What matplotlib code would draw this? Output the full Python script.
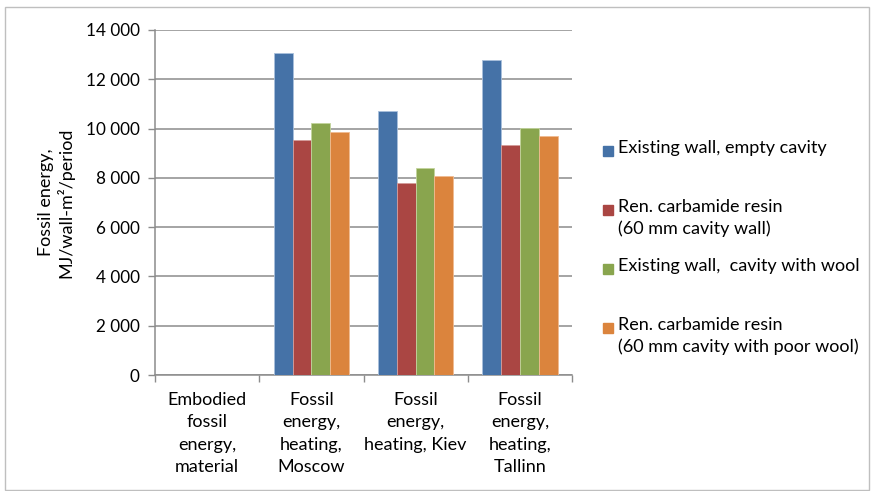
import matplotlib
matplotlib.use("Agg")
import matplotlib.pyplot as plt
import matplotlib.patches as mpatches
import numpy as np

plt.rcParams['font.family'] = ['Lato', 'DejaVu Sans']

categories = ["Embodied\nfossil\nenergy,\nmaterial",
              "Fossil\nenergy,\nheating,\nMoscow",
              "Fossil\nenergy,\nheating, Kiev",
              "Fossil\nenergy,\nheating,\nTallinn"]

series_names = ["Existing wall, empty cavity",
                "Ren. carbamide resin\n(60 mm cavity wall)",
                "Existing wall,  cavity with wool",
                "Ren. carbamide resin\n(60 mm cavity with poor wool)"]

empty_cavity = [0, 13080, 10700, 12800]
resin_wall = [0, 9540, 7780, 9350]
wool_cavity = [0, 10230, 8390, 10020]
resin_poor_wool = [0, 9860, 8090, 9690]

colors = ["#4572A7", "#AA4643", "#89A54E", "#DB843D"]
edges = ["#a9c0dc", "#d39c9a", "#c2d49c", "#f0bb90"]

yticks = [0, 2000, 4000, 6000, 8000, 10000, 12000, 14000]
ytick_labels = ["0", "2 000", "4 000", "6 000", "8 000", "10 000", "12 000", "14 000"]

fig = plt.figure(figsize=(8.72, 4.91), dpi=100)
ax = fig.add_axes([155 / 872, 1 - 375 / 491, (572 - 155) / 872, 345 / 491])

x = np.arange(len(categories))
width = 0.181
all_series = [empty_cavity, resin_wall, wool_cavity, resin_poor_wool]
for i, vals in enumerate(all_series):
    ax.bar(x + (i - 1.5) * width, vals, width, color=colors[i],
           edgecolor=edges[i], linewidth=0.6, zorder=3)

ax.set_xlim(-0.5, 3.5)
ax.set_ylim(0, 14000)
ax.set_yticks(yticks)
ax.set_yticklabels(ytick_labels, fontsize=12.3)
ax.yaxis.grid(True, color="#8c8c8c", linewidth=1.1, zorder=0)
ax.set_axisbelow(True)

# category ticks sit at the boundaries, labels at the centres
ax.set_xticks(np.arange(-0.5, 4.0, 1.0))
ax.set_xticklabels([])
ax.set_xticks(x, minor=True)
ax.set_xticklabels(categories, minor=True, fontsize=13, linespacing=1.5)
ax.tick_params(axis="x", which="minor", length=0, pad=12)
ax.tick_params(axis="x", which="major", length=5, color="#8c8c8c", width=1)
ax.tick_params(axis="y", length=5, color="#8c8c8c", width=1, pad=6)

for side in ["top", "right"]:
    ax.spines[side].set_visible(False)
for side in ["left", "bottom"]:
    ax.spines[side].set_color("#8c8c8c")
    ax.spines[side].set_linewidth(1.1)

ax.set_ylabel("Fossil energy,\nMJ/wall-m\u00b2/period", fontsize=13, labelpad=8,
              linespacing=1.2)

# legend drawn like the Excel one: marker on the first text line
for i, name in enumerate(series_names):
    yc = 1 - (151 + 59 * i) / 491
    fig.patches.append(mpatches.Rectangle((603 / 872, yc - 5 / 491), 10 / 872, 10 / 491,
                                          transform=fig.transFigure, color=colors[i]))
    fig.text(618 / 872, yc + 11 / 491, name, fontsize=13, va="top", ha="left",
             linespacing=1.37)

# chart area border
fig.patches.append(mpatches.Rectangle((5 / 872, 1 / 491), 864 / 872, 483 / 491,
                                      transform=fig.transFigure, fill=False,
                                      edgecolor="#bfbfbf", linewidth=1))

fig.savefig("out.png", dpi=100)
